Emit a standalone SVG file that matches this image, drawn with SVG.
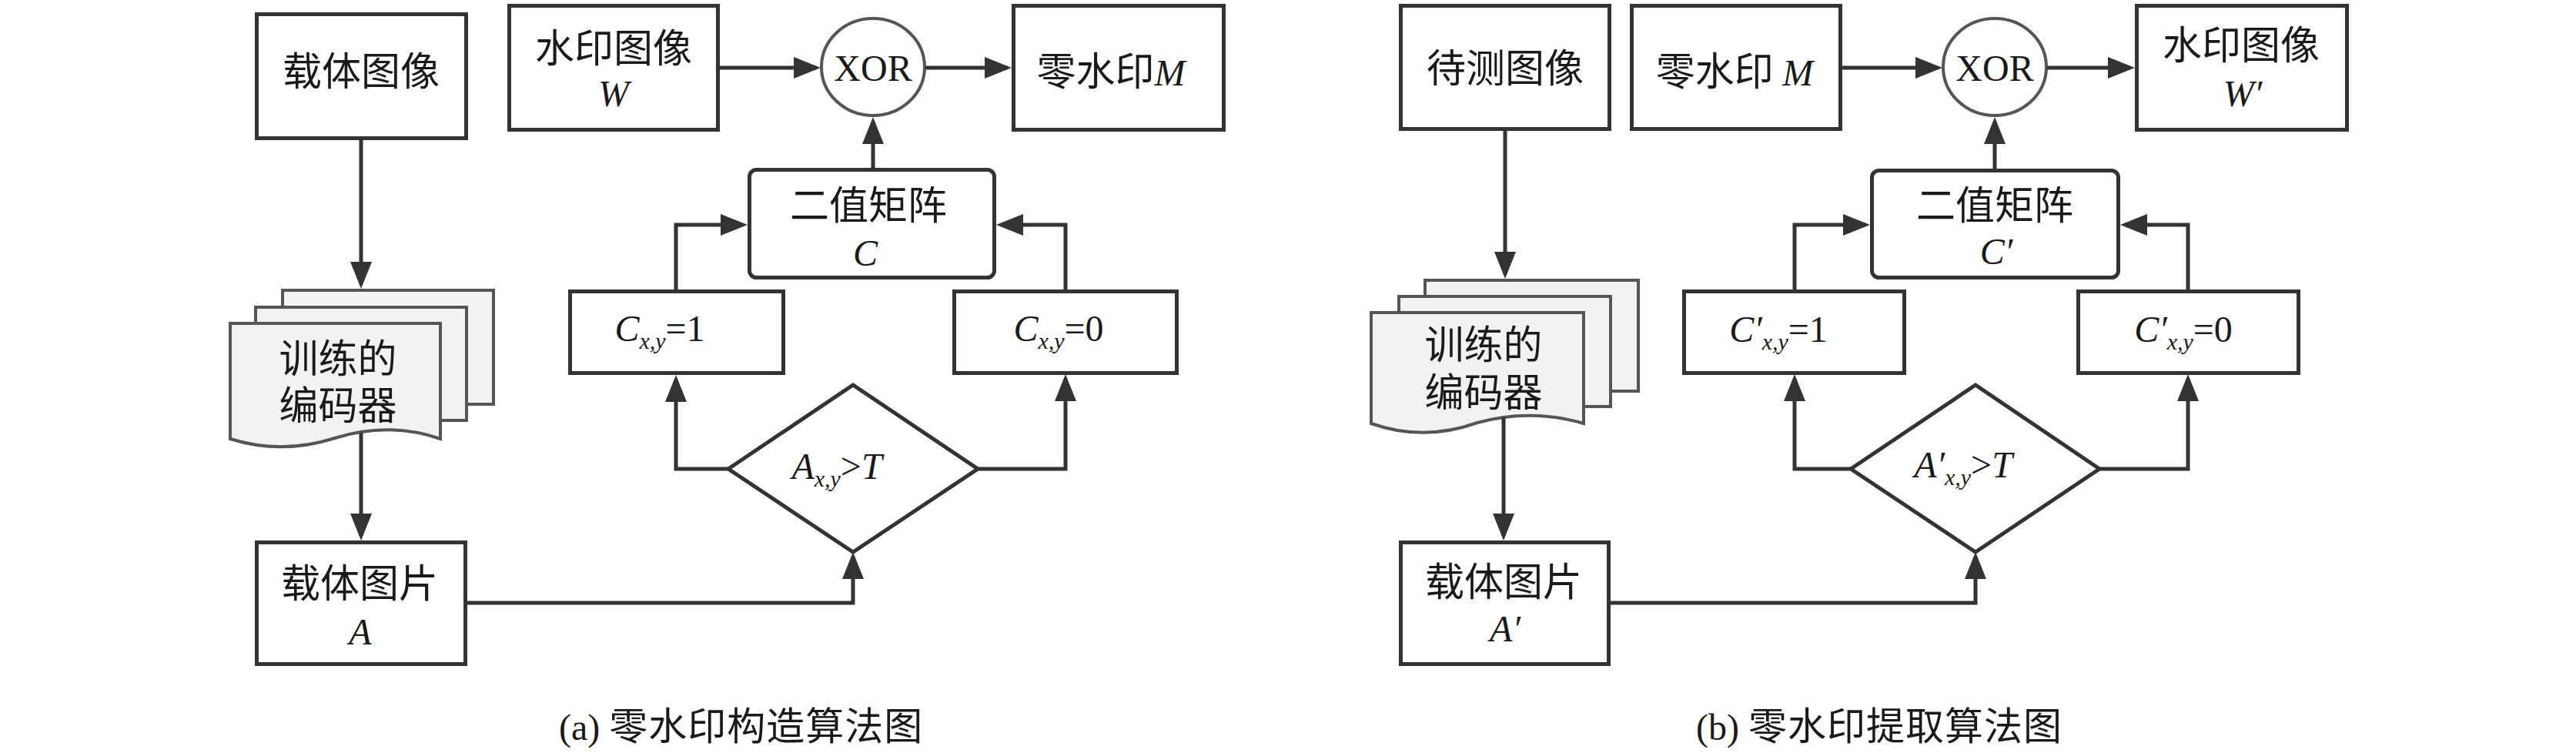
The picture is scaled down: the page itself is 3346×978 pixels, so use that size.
<svg xmlns="http://www.w3.org/2000/svg" width="3346" height="978" viewBox="0 0 3346 978">
<style>
.box{fill:#fff;stroke:#333;stroke-width:5}
.ell{fill:#fff;stroke:#555;stroke-width:4}
.sheet{fill:#f2f2f2;stroke:#555;stroke-width:4}
.con{fill:none;stroke:#333;stroke-width:5;marker-end:url(#ah)}
.cjk{font-family:"Noto Sans CJK SC","Noto Sans CJK JP",sans-serif;font-size:51px;font-weight:400;fill:#1a1a1a}
.lat{font-family:"Liberation Serif","Times New Roman",serif;font-size:48px;fill:#1a1a1a}
.it{font-style:italic}
.sub{font-size:30px}
.cap{font-size:50px;letter-spacing:1px}
</style>
<defs>
<marker id="ah" markerUnits="userSpaceOnUse" markerWidth="36" markerHeight="30" refX="29" refY="14" orient="auto">
<path d="M0,0 L35,14 L0,28 z" fill="#333"/>
</marker>
</defs>
<rect width="3346" height="978" fill="#fff"/>

<!-- Panel (a) -->
<g id="a-carrier-image">
<rect class="box" x="333.5" y="18.5" width="272" height="161"/>
<text class="cjk" x="469" y="111" text-anchor="middle">载体图像</text>
</g>
<g id="a-watermark-image">
<rect class="box" x="661.5" y="7.5" width="271" height="161"/>
<text class="cjk" x="797" y="81" text-anchor="middle">水印图像</text>
<text class="lat it" x="797" y="138" text-anchor="middle" font-size="50">W</text>
</g>
<g id="a-xor">
<ellipse class="ell" cx="1134" cy="87" rx="67" ry="63"/>
<text class="lat" x="1134" y="105" text-anchor="middle" font-size="50">XOR</text>
</g>
<g id="a-zero-watermark">
<rect class="box" x="1316.5" y="7.5" width="273" height="161"/>
<text x="1443" y="111" text-anchor="middle"><tspan class="cjk">零水印</tspan><tspan class="lat it" font-size="50">M</tspan></text>
</g>
<g id="a-binary-matrix">
<rect class="box" x="973.5" y="220.5" width="318" height="140" rx="9"/>
<text class="cjk" x="1128" y="285" text-anchor="middle">二值矩阵</text>
<text class="lat it" x="1124" y="345" text-anchor="middle" font-size="50">C</text>
</g>
<g id="a-c1">
<rect class="box" x="740.5" y="378.5" width="277" height="106"/>
<text class="lat" x="857" y="443" text-anchor="middle"><tspan class="it">C</tspan><tspan class="it sub" dy="10">x,y</tspan><tspan dy="-10">=1</tspan></text>
</g>
<g id="a-c0">
<rect class="box" x="1239.5" y="378.5" width="289" height="106"/>
<text class="lat" x="1375" y="443" text-anchor="middle"><tspan class="it">C</tspan><tspan class="it sub" dy="10">x,y</tspan><tspan dy="-10">=0</tspan></text>
</g>
<g id="a-decision">
<polygon class="box" points="946,609 1108,500 1270,609 1108,717"/>
<text class="lat" x="1087" y="622" text-anchor="middle"><tspan class="it">A</tspan><tspan class="it sub" dy="10">x,y</tspan><tspan dy="-10">&gt;</tspan><tspan class="it">T</tspan></text>
</g>
<g id="a-encoder">
<rect class="sheet" x="367" y="377" width="274" height="148"/>
<rect class="sheet" x="332" y="399" width="274" height="147"/>
<path class="sheet" d="M299,420 H572 V570 Q505,547 435,569 Q366,591 299,570 Z"/>
<text class="cjk" text-anchor="middle"><tspan x="439" y="484">训练的</tspan><tspan x="439" y="545">编码器</tspan></text>
</g>
<g id="a-carrier-picture">
<rect class="box" x="333.5" y="704.5" width="271" height="158"/>
<text class="cjk" x="467" y="776" text-anchor="middle">载体图片</text>
<text class="lat it" x="468" y="837" text-anchor="middle" font-size="50">A</text>
</g>
<g id="a-caption">
<text x="726" y="961"><tspan class="lat" font-size="50">(a) </tspan><tspan class="cjk cap">零水印构造算法图</tspan></text>
</g>

<!-- Panel (b) -->
<g id="b-test-image">
<rect class="box" x="1819.5" y="7.5" width="271" height="160"/>
<text class="cjk" x="1955" y="107" text-anchor="middle">待测图像</text>
</g>
<g id="b-zero-watermark">
<rect class="box" x="2119.5" y="7.5" width="271" height="160"/>
<text x="2253" y="111" text-anchor="middle"><tspan class="cjk">零水印 </tspan><tspan class="lat it" font-size="50">M</tspan></text>
</g>
<g id="b-xor">
<ellipse class="ell" cx="2591" cy="87" rx="67" ry="63"/>
<text class="lat" x="2591" y="105" text-anchor="middle" font-size="50">XOR</text>
</g>
<g id="b-watermark-image">
<rect class="box" x="2775.5" y="7.5" width="273" height="161"/>
<text class="cjk" x="2911" y="77" text-anchor="middle">水印图像</text>
<text class="lat it" x="2913" y="138" text-anchor="middle" font-size="50">W′</text>
</g>
<g id="b-binary-matrix">
<rect class="box" x="2431.5" y="221.5" width="320" height="139" rx="9"/>
<text class="cjk" x="2591" y="285" text-anchor="middle">二值矩阵</text>
<text class="lat it" x="2593" y="343" text-anchor="middle" font-size="50">C′</text>
</g>
<g id="b-c1">
<rect class="box" x="2187.5" y="378.5" width="286" height="106"/>
<text class="lat" x="2310" y="444" text-anchor="middle"><tspan class="it">C′</tspan><tspan class="it sub" dy="10">x,y</tspan><tspan dy="-10">=1</tspan></text>
</g>
<g id="b-c0">
<rect class="box" x="2699.5" y="378.5" width="286" height="106"/>
<text class="lat" x="2836" y="444" text-anchor="middle"><tspan class="it">C′</tspan><tspan class="it sub" dy="10">x,y</tspan><tspan dy="-10">=0</tspan></text>
</g>
<g id="b-decision">
<polygon class="box" points="2404,609 2566,500 2727,609 2566,717"/>
<text class="lat" x="2550" y="620" text-anchor="middle"><tspan class="it">A′</tspan><tspan class="it sub" dy="10">x,y</tspan><tspan dy="-10">&gt;</tspan><tspan class="it">T</tspan></text>
</g>
<g id="b-encoder">
<rect class="sheet" x="1851" y="364" width="277" height="144"/>
<rect class="sheet" x="1817" y="385" width="275" height="143"/>
<path class="sheet" d="M1781,406 H2057 V550 Q1989,530 1919,549 Q1849,574 1781,550 Z"/>
<text class="cjk" text-anchor="middle"><tspan x="1927" y="466">训练的</tspan><tspan x="1927" y="528">编码器</tspan></text>
</g>
<g id="b-carrier-picture">
<rect class="box" x="1819.5" y="704.5" width="270" height="158"/>
<text class="cjk" x="1953" y="774" text-anchor="middle">载体图片</text>
<text class="lat it" x="1955" y="833" text-anchor="middle" font-size="50">A′</text>
</g>
<g id="b-caption">
<text x="2203" y="961"><tspan class="lat" font-size="50">(b) </tspan><tspan class="cjk cap">零水印提取算法图</tspan></text>
</g>

<g id="connectors">
<path class="con" d="M469,182 V369"/>
<path class="con" d="M469,562 V696"/>
<path class="con" d="M607,783 H1108 V723"/>
<path class="con" d="M946,609 H878 V493"/>
<path class="con" d="M1270,609 H1384 V492"/>
<path class="con" d="M878,376 V292 H965"/>
<path class="con" d="M1384,376 V292 H1300"/>
<path class="con" d="M1134,218 V158"/>
<path class="con" d="M935,88 H1060"/>
<path class="con" d="M1202,88 H1308"/>

<path class="con" d="M1955,170 V356"/>
<path class="con" d="M1953,542 V696"/>
<path class="con" d="M2092,783 H2566 V723"/>
<path class="con" d="M2404,609 H2331 V492"/>
<path class="con" d="M2727,609 H2842 V492"/>
<path class="con" d="M2331,376 V292 H2423"/>
<path class="con" d="M2842,376 V292 H2760"/>
<path class="con" d="M2591,219 V158"/>
<path class="con" d="M2393,88 H2517"/>
<path class="con" d="M2659,88 H2767"/>
</g>
</svg>
